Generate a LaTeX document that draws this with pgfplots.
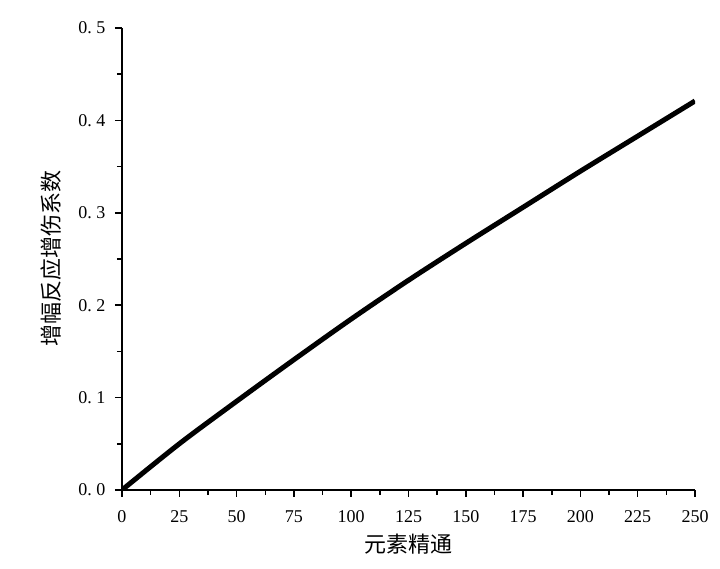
\documentclass[border=0pt]{standalone}
\usepackage{fontspec}
\setmainfont{Liberation Serif}
\newfontfamily\cjk{Noto Sans CJK SC}
\usepackage{pgfplots}
\pgfplotsset{compat=1.18}

\begin{document}
\begin{tikzpicture}
\begin{axis}[
    scale only axis,
    width=573pt, height=462pt,
    xmin=0, xmax=250, ymin=0, ymax=0.5,
    axis lines*=left,
    axis line style={line width=1.6pt},
    xtick={0,25,...,250},
    ytick={0,0.1,0.2,0.3,0.4,0.5},
    yticklabels={0.\hspace{0.25em}0,0.\hspace{0.25em}1,0.\hspace{0.25em}2,0.\hspace{0.25em}3,0.\hspace{0.25em}4,0.\hspace{0.25em}5},
    minor x tick num=1,
    minor y tick num=1,
    tick align=outside,
    major tick length=7pt,
    minor tick length=5pt,
    tick style={line width=1.5pt, black},
    /pgf/number format/assume math mode=true,
    ticklabel style={font=\fontsize{18}{18}\selectfont},
    xticklabel style={yshift=-10pt},
    yticklabel style={xshift=-6pt},
    xlabel={\cjk 元素精通},
    ylabel={\cjk 增幅反应增伤系数},
    label style={font=\fontsize{22}{22}\selectfont},
    xlabel style={yshift=-4pt},
    ylabel style={yshift=10pt},
]
\addplot[black, line width=5pt, smooth] coordinates {
    (0,0) (25,0.050) (50,0.096) (75,0.141) (100,0.185) (125,0.227)
    (150,0.267) (175,0.306) (200,0.345) (225,0.383) (250,0.421)
};
\end{axis}
\path[use as bounding box] (-122pt,-79pt) rectangle (598pt,490pt);
\end{tikzpicture}
\end{document}
